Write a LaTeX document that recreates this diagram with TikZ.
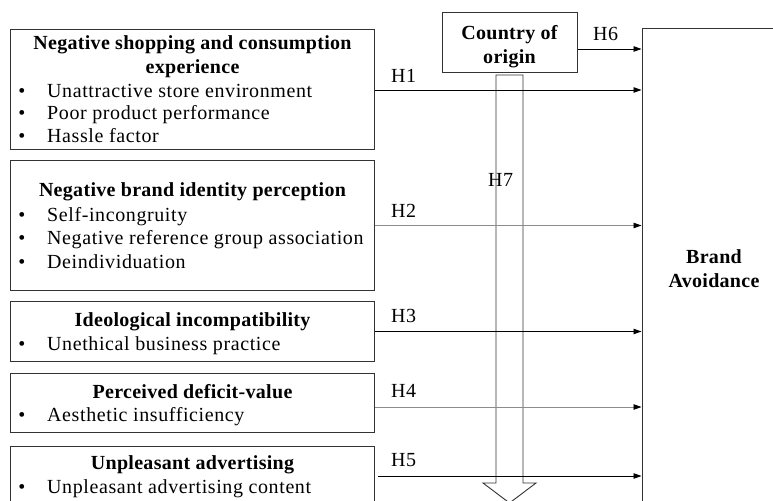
\documentclass[tikz,border=0pt]{standalone}
\usepackage{fontspec}
\setmainfont{Liberation Serif}[LetterSpace=3, BoldFeatures={LetterSpace=1.5}]
\usetikzlibrary{arrows.meta}
\definecolor{edge}{HTML}{333333}
\definecolor{faint}{HTML}{8C8C8C}
\begin{document}
\fontsize{20bp}{23bp}\selectfont
\begin{tikzpicture}[x=1bp,y=-1bp,
  box/.style={draw=edge, line width=1bp, inner sep=0pt},
  ttl/.style={font=\bfseries, anchor=mid, inner sep=0pt, yshift=-2bp},
  itm/.style={anchor=mid west, inner sep=0pt, yshift=-2bp},
  dot/.style={anchor=mid, inner sep=0pt, yshift=-2bp},
  link/.style={line width=0.9bp, -{Triangle[length=8bp,width=5.5bp,color=black]}},
  hlab/.style={anchor=mid west, inner sep=0pt, yshift=-1bp}]
\useasboundingbox (0,0) rectangle (773,501);
\clip (0,0) rectangle (773,501);

% antecedent boxes
\node[box, minimum width=363bp, minimum height=120bp] (b1) at (192.5,90) {};
\node[box, minimum width=363bp, minimum height=129bp] (b2) at (192.5,225.5) {};
\node[box, minimum width=363bp, minimum height=59bp] (b3) at (192.5,331.5) {};
\node[box, minimum width=363bp, minimum height=59bp] (b4) at (192.5,402.5) {};
\node[box, minimum width=363bp, minimum height=84bp] (b5) at (192.5,488) {};

% moderator and outcome
\node[box, minimum width=135bp, minimum height=60bp] (coo) at (509.5,43) {};
\node[box, minimum width=156bp, minimum height=502bp] (ba) at (720,280) {};

% box texts
\node[ttl] (t1a) at (192.5,43) {Negative shopping and consumption};
\node[ttl] (t1b) at (192.5,67) {experience};
\foreach \y/\txt [count=\i] in {91/Unattractive store environment,113/Poor product performance,136/Hassle factor}{
  \node[dot] (d1\i) at (22,\y) {•};
  \node[itm] (i1\i) at (47,\y) {\txt};
}
\node[ttl] (t2) at (192.5,190) {Negative brand identity perception};
\foreach \y/\txt [count=\i] in {215/Self-incongruity,238/Negative reference group association,262/Deindividuation}{
  \node[dot] (d2\i) at (22,\y) {•};
  \node[itm] (i2\i) at (47,\y) {\txt};
}
\node[ttl] (t3) at (192.5,320) {Ideological incompatibility};
\node[dot] (d31) at (22,344) {•};
\node[itm] (i31) at (47,344) {Unethical business practice};
\node[ttl] (t4) at (192.5,392) {Perceived deficit-value};
\node[dot] (d41) at (22,415) {•};
\node[itm] (i41) at (47,415) {Aesthetic insufficiency};
\node[ttl] (t5) at (192.5,463) {Unpleasant advertising};
\node[dot] (d51) at (22,487) {•};
\node[itm] (i51) at (47,487) {Unpleasant advertising content};

\node[ttl] (c1) at (509.5,33) {Country of};
\node[ttl] (c2) at (509.5,57) {origin};
\node[ttl] (ba1) at (714,257) {Brand};
\node[ttl] (ba2) at (714,281) {Avoidance};

% hollow moderating arrow
\draw[box, line width=0.9bp] (496,75) -- (523,75) -- (523,483) -- (536,483)
  -- (509.5,503) -- (483,483) -- (496,483) -- cycle;

% hypothesis paths
\coordinate (h5s) at (378,476);
\draw[link, draw=black] (b1.east) -- (b1.east -| ba.west);
\draw[link, draw=faint] (b2.east) -- (b2.east -| ba.west);
\draw[link, draw=black] (b3.east) -- (b3.east -| ba.west);
\draw[link, draw=faint] ([yshift=-4.5bp]b4.east) -- ([yshift=-4.5bp]b4.east -| ba.west);
\draw[link, draw=black] (h5s) -- (h5s -| ba.west);
\draw[link, draw=black] ([yshift=-6bp]coo.east) -- ([yshift=-6bp]coo.east -| ba.west);

% hypothesis labels
\node[hlab] (l1) at (391,77) {H1};
\node[hlab] (l2) at (391,212) {H2};
\node[hlab] (l3) at (391,317) {H3};
\node[hlab] (l4) at (391,392) {H4};
\node[hlab] (l5) at (391,461) {H5};
\node[hlab] (l6) at (593,35) {H6};
\node[hlab] (l7) at (488,181) {H7};
\end{tikzpicture}
\end{document}
